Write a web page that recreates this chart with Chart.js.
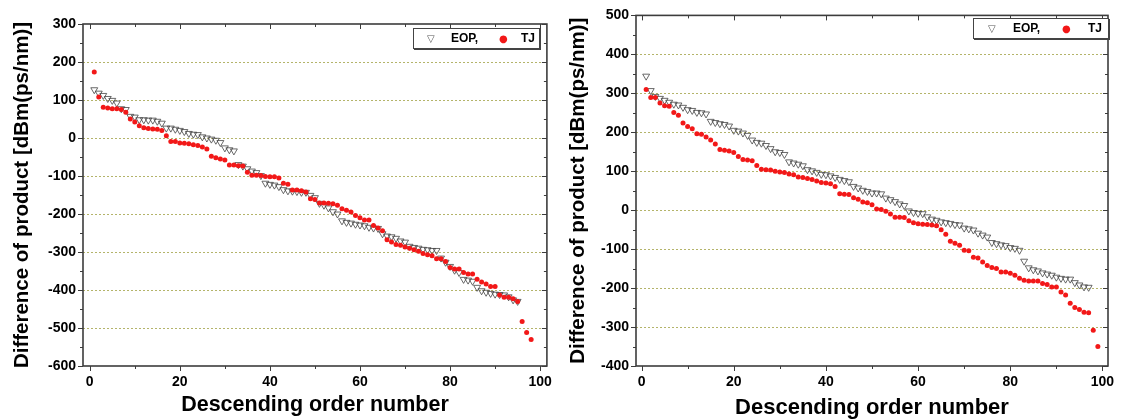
<!DOCTYPE html>
<html>
<head>
<meta charset="UTF-8">
<title>Difference of product</title>
<script src="https://cdn.jsdelivr.net/npm/chart.js"></script>
<style>
    body {
        margin: 0;
        background: #fff;
        width: 1124px;
        height: 419px;
        overflow: hidden;
        font-family: "Liberation Sans", Arial, sans-serif;
    }
    .panel {
        position: absolute;
        top: 0;
        height: 419px;
    }
    .legend {
        position: absolute;
        height: 19px;
        border: 1px solid #444;
        box-shadow: 1px 1px 0 #444;
        background: #fff;
        font-weight: bold;
        font-size: 12px;
        line-height: 19px;
        color: #000;
        white-space: nowrap;
    }
    .legend span { position: absolute; top: 0; }
    .tri { color: #555; font-size: 10px; font-family: "DejaVu Sans", sans-serif; }
    .dot { color: #f21818; font-size: 10px; font-family: "DejaVu Sans", sans-serif; }
</style>
</head>
<body>
<div class="panel" style="left:0;width:560px"><canvas id="leftChart" width="560" height="419"></canvas></div>
<div class="panel" style="left:560px;width:564px"><canvas id="rightChart" width="564" height="419"></canvas></div>

<div class="legend" style="left:413px;top:28px;width:125px">
    <span class="tri" style="left:13px">▽</span><span style="left:37px">EOP,</span>
    <span class="dot" style="left:85px">●</span><span style="left:107px">TJ</span>
</div>
<div class="legend" style="left:973px;top:18px;width:134px">
    <span class="tri" style="left:14px">▽</span><span style="left:39px">EOP,</span>
    <span class="dot" style="left:88px">●</span><span style="left:114px">TJ</span>
</div>

<script>
// values, x = order number 1..n
const leftEOP = [127, 118, 112, 104, 99, 92, 77, 75, 57, 55, 48, 48, 47, 47, 44, 39, 26, 26, 23, 20,
    17, 12, 10, 9, 3, 0, -3, -6, -12, -26, -31, -34, -70, -74, -81, -87, -91, -99, -119, -122,
    -124, -128, -136, -139, -140, -141, -143, -143, -151, -157, -172, -177, -184, -194, -200, -218, -222, -224, -227, -229,
    -231, -235, -237, -238, -252, -258, -260, -264, -271, -274, -285, -288, -290, -293, -294, -296, -296, -316, -327, -338,
    -348, -354, -372, -374, -377, -393, -402, -406, -409, -411, -412, -413, -418, -426, -430];
const leftTJ = [174, 108, 81, 79, 77, 77, 75, 68, 50, 42, 32, 27, 25, 24, 23, 20, 6, -9, -9, -13,
    -14, -15, -18, -20, -24, -29, -48, -52, -55, -58, -71, -71, -73, -74, -90, -98, -98, -99, -101, -102,
    -102, -105, -119, -122, -137, -137, -139, -142, -160, -162, -171, -171, -172, -173, -177, -186, -190, -195, -204, -210,
    -216, -216, -230, -237, -244, -268, -274, -280, -282, -287, -290, -294, -298, -304, -307, -310, -318, -318, -325, -341,
    -345, -345, -354, -358, -358, -372, -379, -384, -391, -391, -413, -419, -419, -423, -430, -483, -512, -530];

const rightEOP = [344, 307, 292, 287, 282, 277, 272, 270, 264, 258, 256, 251, 250, 247, 228, 225, 222, 220, 216, 205,
    203, 198, 192, 180, 174, 172, 166, 158, 150, 148, 143, 124, 121, 118, 114, 104, 101, 97, 92, 91,
    88, 84, 79, 76, 73, 61, 57, 51, 48, 44, 44, 42, 31, 27, 22, 16, 12, -2, -6, -8,
    -9, -17, -23, -26, -30, -32, -34, -37, -38, -46, -48, -51, -59, -64, -69, -83, -86, -89, -91, -96,
    -98, -103, -131, -148, -153, -156, -161, -164, -167, -172, -175, -177, -177, -186, -192, -197, -198];
const rightTJ = [310, 289, 289, 275, 268, 267, 251, 244, 224, 215, 209, 196, 195, 188, 180, 170, 156, 154, 152, 148,
    138, 130, 129, 127, 115, 105, 104, 103, 100, 98, 97, 93, 91, 85, 84, 81, 79, 75, 71, 70,
    68, 61, 42, 41, 40, 32, 28, 21, 19, 14, 3, 2, -3, -10, -18, -18, -19, -27, -32, -35,
    -36, -37, -38, -40, -50, -62, -80, -85, -90, -103, -104, -121, -123, -133, -142, -147, -150, -159, -159, -162,
    -167, -175, -180, -182, -182, -182, -188, -191, -197, -197, -210, -218, -239, -250, -255, -262, -263, -308, -350];

const xTicks = [0, 20, 40, 60, 80, 100];

function pts(values) {
    return values.map((v, i) => ({x: i + 1, y: v}));
}

// box frame + major/minor ticks (outward on left/bottom, inward on top/right)
const frame = {
    id: 'frame',
    afterDraw(chart) {
        const {ctx, chartArea: a, scales: {x, y}} = chart;
        ctx.save();
        ctx.strokeStyle = '#3c3c3c';
        ctx.lineWidth = 1;
        const seg = (x1, y1, x2, y2) => { ctx.beginPath(); ctx.moveTo(x1, y1); ctx.lineTo(x2, y2); ctx.stroke(); };
        for (let v = 0; v <= 100; v += 10) {
            const px = Math.round(x.getPixelForValue(v)) + 0.5;
            const len = v % 20 ? 3 : 5;
            seg(px, a.bottom, px, a.bottom + len);
            seg(px, a.top, px, a.top + len);
        }
        for (let v = y.min; v <= y.max; v += 50) {
            const py = Math.round(y.getPixelForValue(v)) + 0.5;
            const len = v % 100 ? 3 : 5;
            seg(a.left, py, a.left - len, py);
            seg(a.right, py, a.right - len, py);
        }
        ctx.lineWidth = 1.6;
        ctx.strokeRect(a.left, a.top, a.right - a.left, a.bottom - a.top);
        ctx.restore();
    }
};

function makeChart(id, eop, tj, cfg) {
    new Chart(document.getElementById(id), {
        type: 'scatter',
        data: {
            datasets: [{
                label: 'TJ',
                data: pts(tj),
                pointStyle: 'circle',
                pointRadius: 2.5,
                pointBorderWidth: 0,
                backgroundColor: '#f21818',
                borderColor: '#f21818'
            }, {
                label: 'EOP,',
                data: pts(eop),
                pointStyle: 'triangle',
                rotation: 180,
                pointRadius: 4,
                pointBorderWidth: 0.8,
                borderColor: '#444',
                backgroundColor: 'rgba(255,255,255,0)'
            }]
        },
        options: {
            responsive: false,
            animation: false,
            layout: {padding: {top: cfg.top, right: cfg.right, left: 0, bottom: 0}},
            plugins: {legend: {display: false}, tooltip: {enabled: false}},
            scales: {
                x: {
                    type: 'linear',
                    min: cfg.xMin,
                    max: cfg.xMax,
                    afterFit: s => { s.height = 53; },
                    afterBuildTicks: s => { s.ticks = xTicks.map(v => ({value: v})); },
                    grid: {display: false, drawTicks: false},
                    border: {display: false},
                    ticks: {
                        padding: 8,
                        color: '#000',
                        font: {family: 'Liberation Sans', weight: 'bold', size: 14}
                    },
                    title: {
                        display: true,
                        text: 'Descending order number',
                        color: '#000',
                        padding: {top: 0, bottom: cfg.xTitlePad},
                        font: {family: 'Liberation Sans', weight: 'bold', size: cfg.xTitleSize, lineHeight: 1}
                    }
                },
                y: {
                    min: cfg.yMin,
                    max: cfg.yMax,
                    afterFit: s => { s.width = cfg.yWidth; },
                    grid: {
                        drawTicks: false,
                        lineWidth: 1,
                        color: c => (c.tick.value === cfg.yMin || c.tick.value === cfg.yMax) ? 'rgba(0,0,0,0)' : '#b4b46a'
                    },
                    border: {display: false, dash: [2, 2]},
                    ticks: {
                        stepSize: 100,
                        padding: 7,
                        color: '#000',
                        font: {family: 'Liberation Sans', weight: 'bold', size: 14}
                    },
                    title: {
                        display: true,
                        text: 'Difference of product [dBm(ps/nm)]',
                        color: '#000',
                        padding: {top: cfg.yTitlePad, bottom: 0},
                        font: {family: 'Liberation Sans', weight: 'bold', size: 20.5, lineHeight: 1.2}
                    }
                }
            }
        },
        plugins: [frame]
    });
}

makeChart('leftChart', leftEOP, leftTJ, {
    top: 24, right: 12, yWidth: 83, xMin: -1.5, xMax: 101.5,
    yMin: -600, yMax: 300, yTitlePad: 10, xTitlePad: 3, xTitleSize: 21.5
});
makeChart('rightChart', rightEOP, rightTJ, {
    top: 14, right: 16, yWidth: 76, xMin: -1.2, xMax: 101.2,
    yMin: -400, yMax: 500, yTitlePad: 6, xTitlePad: 0, xTitleSize: 22
});
</script>
</body>
</html>
